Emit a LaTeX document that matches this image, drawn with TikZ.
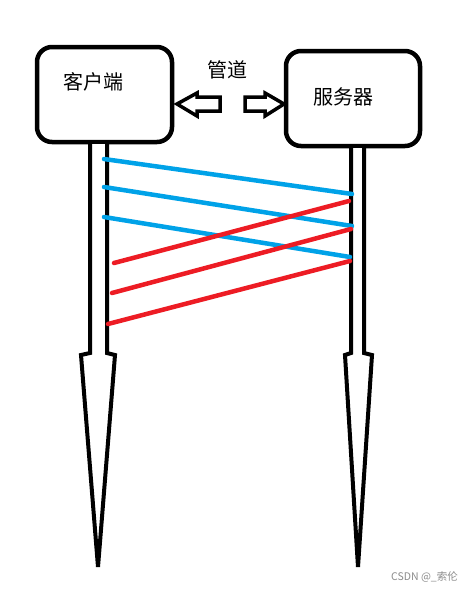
\documentclass[tikz,border=0pt]{standalone}
\usepackage{fontspec}
\newfontfamily\cjk{Noto Sans CJK SC}
\definecolor{pblue}{RGB}{0,162,232}
\definecolor{pred}{RGB}{237,28,36}
\begin{document}
\begin{tikzpicture}[x=1pt,y=-1pt,
  boxstyle/.style={draw=black,line width=4.5pt,rounded corners=15pt,inner sep=0pt},
  shaft/.style={draw=black,line width=4pt,line join=miter,fill=white},
  msgblue/.style={draw=pblue,line width=4.5pt,line cap=round},
  msgred/.style={draw=pred,line width=4.5pt,line cap=round},
  label/.style={font=\cjk\fontsize{20}{22}\selectfont,inner sep=0pt},
  hollow/.style={draw=black,line width=3.5pt,line join=miter,fill=white}]
\useasboundingbox (0,0) rectangle (474,592);
\fill[white] (0,0) rectangle (474,592);
% boxes
\node[boxstyle,minimum width=135pt,minimum height=95pt] (client) at (104.5,94.5) {};
\node[boxstyle,minimum width=134pt,minimum height=95pt] (server) at (353,98.5) {};
\node[label] (clienttxt) at (93,82) {客户端};
\node[label] (servertxt) at (343,97) {服务器};
\node[label] (pipe) at (227,70) {管道};
% shafts with arrowheads
\draw[shaft] (90,144)--(90,353)--(81,355)--(98,567)--(115,355)--(107,353)--(107,144);
\draw[shaft] (351,148)--(351,353)--(345,355)--(358,567)--(372,355)--(364,353)--(364,148);
% hollow arrows
\draw[hollow] (177,104)--(197,93)--(197,97)--(220,97)--(220,111)--(197,111)--(197,116)--cycle;
\draw[hollow] (245,97)--(265,97)--(265,93)--(284,104)--(265,116)--(265,111)--(245,111)--cycle;
% message endpoints
\coordinate (b1s) at (104,159); \coordinate (b1e) at (352,194);
\coordinate (b2s) at (104,187); \coordinate (b2e) at (352,226);
\coordinate (b3s) at (104,217); \coordinate (b3e) at (350,257);
\coordinate (r1s) at (349,201); \coordinate (r1e) at (114,263);
\coordinate (r2s) at (351,229); \coordinate (r2e) at (112,293);
\coordinate (r3s) at (350,261); \coordinate (r3e) at (108,324);
\draw[msgblue] (b1s)--(b1e);
\draw[msgblue] (b2s)--(b2e);
\draw[msgblue] (b3s)--(b3e);
\draw[msgred] (r1s)--(r1e);
\draw[msgred] (r2s)--(r2e);
\draw[msgred] (r3s)--(r3e);
% watermark
\node[font=\cjk\fontsize{10.5}{12}\selectfont,text=black!45,inner sep=0pt,anchor=east] (wm) at (458,577) {CSDN @\_索伦};
\end{tikzpicture}
\end{document}
